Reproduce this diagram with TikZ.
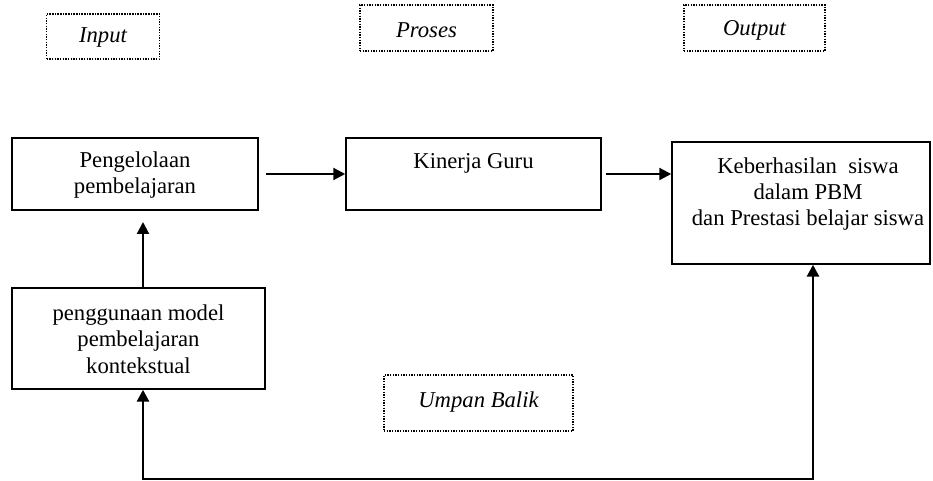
\documentclass[tikz,border=0pt]{standalone}
\usepackage{fontspec}
\setmainfont{Liberation Serif}
\usetikzlibrary{arrows.meta,calc}
\begin{document}
\begin{tikzpicture}[x=0.75pt,y=-0.75pt,
  box/.style={draw=black,line width=1.1pt,inner sep=0pt},
  dotbox/.style={draw=black,line width=1.3pt,dash pattern=on 1.1pt off 0.9pt,inner sep=0pt},
  txt/.style={font=\fontsize{17}{19.8}\selectfont,align=center,inner sep=0pt},
  itxt/.style={font=\fontsize{17}{19.8}\selectfont\itshape,inner sep=0pt},
  arr/.style={line width=1.6pt,-{Triangle[length=9pt,width=9pt]}},
  fb/.style={line width=2.1pt,{Triangle[length=9pt,width=9pt]}-{Triangle[length=9pt,width=9pt]}}]
\useasboundingbox (0,0) rectangle (933,481);
% dotted heading boxes
\node[dotbox,minimum width=84.75pt,minimum height=33.75pt] (inbox) at (103,36.5) {};
\node[itxt] (intxt) at (103,37) {Input};
\node[dotbox,minimum width=99.75pt,minimum height=34.5pt] (prbox) at (426.5,28) {};
\node[itxt] (prtxt) at (426.5,30) {Proses};
\node[dotbox,minimum width=105.75pt,minimum height=34.5pt] (oubox) at (754.5,28) {};
\node[itxt] (outxt) at (754.5,30) {Output};
\node[dotbox,minimum width=141.75pt,minimum height=42pt] (ubbox) at (478.5,403) {};
\node[itxt] (ubtxt) at (478.5,402) {Umpan Balik};
% main boxes
\node[box,minimum width=184.5pt,minimum height=54pt] (pg) at (135,174) {};
\node[txt] (pgtxt) at (135,175) {Pengelolaan\\pembelajaran};
\node[box,minimum width=191.25pt,minimum height=54pt] (kg) at (473.5,174) {};
\node[txt] (kgtxt) at (473.5,163) {Kinerja Guru};
\node[box,minimum width=193.5pt,minimum height=91.5pt] (kb) at (801,203) {};
\node[txt] (kbtxt) at (808,194) {Keberhasilan\ \ siswa\\dalam PBM\\dan Prestasi belajar siswa};
\node[box,minimum width=189.75pt,minimum height=75.75pt] (pm) at (138.5,338.5) {};
\node[txt] (pmtxt) at (138.5,339) {penggunaan model\\pembelajaran\\kontekstual};
% connector points
\coordinate (atip) at (143,222);
\coordinate (fbr) at (813,479);
\coordinate (fbl) at (143,479);
% arrows
\draw[arr,shorten <=5.25pt] (pg.east) -- (kg.west);
\draw[arr,shorten <=3pt] (kg.east) -- (kg.east -| kb.west);
\draw[arr] (pm.north -| atip) -- (atip);
\draw[fb] (kb.south -| fbr) -- (fbr) -- (fbl) -- (pm.south -| fbl);
\end{tikzpicture}
\end{document}
